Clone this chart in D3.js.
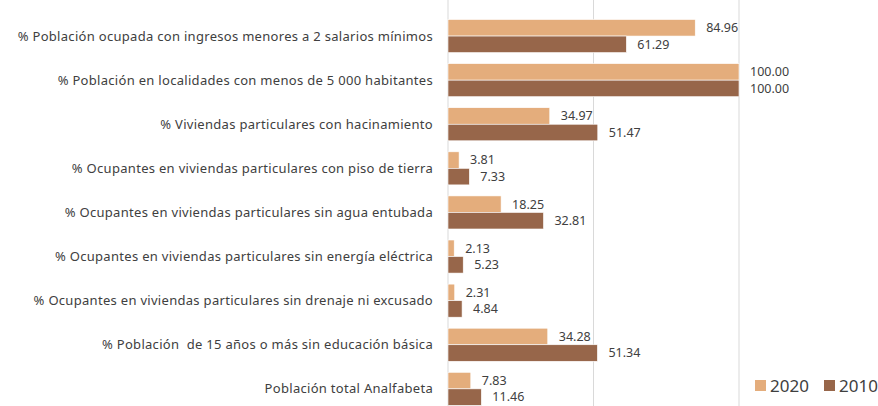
<!DOCTYPE html>
<html>
<head>
<meta charset="utf-8">
<script src="https://cdn.jsdelivr.net/npm/d3@7"></script>
<style>
  body { margin: 0; background: #fff; }
  svg { display: block; font-family: "Noto Sans", Lato, sans-serif; }
</style>
</head>
<body>
<div class="chart"></div>
<script>
// categories, top to bottom
const categories = [
  '% Población ocupada con ingresos menores a 2 salarios mínimos',
  '% Población en localidades con menos de 5 000 habitantes',
  '% Viviendas particulares con hacinamiento',
  '% Ocupantes en viviendas particulares con piso de tierra',
  '% Ocupantes en viviendas particulares sin agua entubada',
  '% Ocupantes en viviendas particulares sin energía eléctrica',
  '% Ocupantes en viviendas particulares sin drenaje ni excusado',
  '% Población  de 15 años o más sin educación básica',
  'Población total Analfabeta'
];
const series = ['2020', '2010'];
const values2020 = [84.96, 100.00, 34.97, 3.81, 18.25, 2.13, 2.31, 34.28, 7.83];
const values2010 = [61.29, 100.00, 51.47, 7.33, 32.81, 5.23, 4.84, 51.34, 11.46];
const gridTicks = [0, 50, 100];

const colors = {'2020': '#e4ad7c', '2010': '#97664a'};

const width = 878, height = 406;
const margin = {top: 14, left: 448};

const rows = categories.map((c, i) => ({cat: c, '2020': values2020[i], '2010': values2010[i]}));

const svg = d3.select('.chart').append('svg')
  .attr('width', width).attr('height', height);

const x = d3.scaleLinear().domain([0, 100]).range([margin.left, 739]);
const y = d3.scaleBand().domain(categories).range([margin.top, margin.top + 44.1 * 9]).paddingInner(0.25).paddingOuter(0.125);
const ySub = d3.scaleBand().domain(series).range([0, y.bandwidth()]);

// vertical gridlines
svg.append('g').selectAll('line')
  .data(gridTicks)
  .enter().append('line')
    .attr('x1', d => x(d)).attr('x2', d => x(d))
    .attr('y1', 0).attr('y2', height)
    .attr('stroke', '#d9d9d9').attr('stroke-width', 1);

// category labels
svg.append('g').selectAll('text')
  .data(categories)
  .enter().append('text')
    .attr('x', 433)
    .attr('y', d => y(d) + y.bandwidth() / 2)
    .attr('dy', '0.35em')
    .attr('text-anchor', 'end')
    .attr('font-size', 13)
    .attr('letter-spacing', 0.3)
    .style('white-space', 'pre')
    .attr('fill', '#404040')
    .text(d => d);

const groups = svg.append('g').selectAll('g')
  .data(rows)
  .enter().append('g')
    .attr('transform', d => `translate(0,${y(d.cat)})`);

groups.selectAll('rect')
  .data(d => series.map(s => ({s, v: d[s]})))
  .enter().append('rect')
    .attr('x', x(0))
    .attr('y', d => ySub(d.s))
    .attr('width', d => x(d.v) - x(0))
    .attr('height', ySub.bandwidth())
    .attr('fill', d => colors[d.s])
    .attr('stroke', '#fff').attr('stroke-width', 0.6);

groups.selectAll('text')
  .data(d => series.map(s => ({s, v: d[s]})))
  .enter().append('text')
    .attr('x', d => x(d.v) + 11)
    .attr('y', d => ySub(d.s) + ySub.bandwidth() / 2)
    .attr('dy', '0.35em')
    .attr('font-size', 12.5)
    .attr('fill', '#404040')
    .text(d => d.v.toFixed(2));

// legend
const legend = svg.append('g').selectAll('g')
  .data(series)
  .enter().append('g')
    .attr('transform', (d, i) => `translate(${755 + i * 69},380)`);

legend.append('rect')
  .attr('width', 11).attr('height', 11)
  .attr('fill', d => colors[d]);

legend.append('text')
  .attr('x', 15).attr('y', 6)
  .attr('dy', '0.35em')
  .attr('font-size', 17)
  .attr('fill', '#404040')
  .text(d => d);
</script>
</body>
</html>
